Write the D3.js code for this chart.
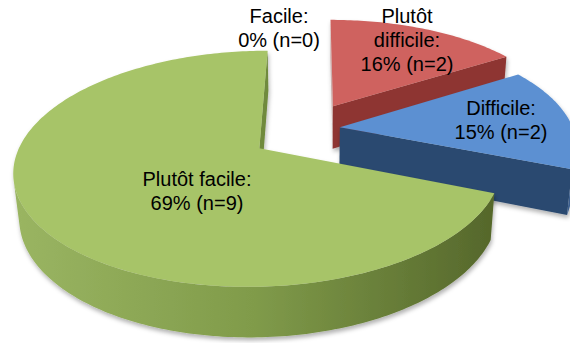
<!DOCTYPE html>
<html>
<head>
<meta charset="utf-8">
<script src="https://cdn.jsdelivr.net/npm/d3@7"></script>
<style>
  html, body { margin: 0; padding: 0; background: #fff; }
  svg { display: block; }
  text { font-family: "Liberation Sans", Arial, sans-serif; font-size: 20px; fill: #000; }
</style>
</head>
<body>
<svg id="chart" width="570" height="343"></svg>
<script>
// ---- data ----
const categories = ["Facile", "Plutôt difficile", "Difficile", "Plutôt facile"];
const percents   = [0, 16, 15, 69];
const counts     = [0, 2, 2, 9];
// category names as they wrap inside the labels
const wrappedNames = [["Facile:"], ["Plutôt", "difficile:"], ["Difficile:"], ["Plutôt facile:"]];

// ---- styling ----
const topColors  = ["#9bbb59", "#cf625e", "#5b90d2", "#a7c467"];
const faceColors = ["#7d9847", "#8e3633", "#2c4a6f", "#6f8a3c"];
const sideLight  = ["#c9d8a8", "#cdb0ae", "#9db5d6", "#a3ae8a"];
const wallStops  = [
  ["#8aa553", "#6f8a3c", "#55672a"],
  ["#b04a47", "#963d3a", "#7d302d"],
  ["#3c5f8e", "#33547f", "#2a4669"],
  ["#9ab562", "#809b4a", "#55672b"]
];

// ---- 3D view of the pie (unit radius disc seen through a perspective camera) ----
const view = { cx: 315.28, cy: 130.68, scale: 234.03, tilt: 27.62, dist: 5.25, depth: 0.2151 };
// how far each slice is pulled out, and in which direction (degrees, clockwise from 12 o'clock)
const explodeDist = [0, 0.247, 0.1102, 0.2813];
const explodeDir  = [0, 18.55, 73.16, 235.8];
// label anchors: [angle in degrees, radius] measured from each slice's own apex
const labelPolar = [[-9.3, 1.141], [27.07, 0.830], [84.45, 0.705], [212.9, 0.4216]];
const lineHeight = 24;

const rad = Math.PI / 180;
const cosT = Math.cos(view.tilt * rad), sinT = Math.sin(view.tilt * rad);
const camera = [0, -view.dist * cosT, view.dist * sinT];

function project(x, w, h) {
  const along = w * cosT - h * sinT;
  const up = w * sinT + h * cosT;
  const k = 1 / (1 + along / view.dist);
  return [view.cx + view.scale * x * k, view.cy - view.scale * up * k];
}

const pie = d3.pie().sort(null).value(d => d).startAngle(0).endAngle(2 * Math.PI);
const arcs = pie(percents).map((a, i) => ({
  ...a, i,
  ox: explodeDist[i] * Math.sin(explodeDir[i] * rad),
  ow: explodeDist[i] * Math.cos(explodeDir[i] * rad)
}));

const svg = d3.select("#chart");
const defs = svg.append("defs");
const shadow = defs.append("filter").attr("id", "shadow")
  .attr("x", "-10%").attr("y", "-10%").attr("width", "120%").attr("height", "130%");
shadow.append("feDropShadow").attr("dx", 1).attr("dy", 3).attr("stdDeviation", 2.2)
  .attr("flood-color", "#000").attr("flood-opacity", 0.3);

const line = d3.line();
const pt = (s, a, r, h) => project(s.ox + r * Math.sin(a), s.ow + r * Math.cos(a), h);
const ring = (a0, a1, s, h) => {
  const n = Math.max(2, Math.ceil(Math.abs(a1 - a0) / (1 * rad)));
  return d3.range(n + 1).map(j => pt(s, a0 + (a1 - a0) * j / n, 1, h));
};
const sees = (n, p) => n[0] * (camera[0] - p[0]) + n[1] * (camera[1] - p[1]) + n[2] * (camera[2] - p[2]) > 0;

// back slices first, the big front slice last
const order = [1, 2, 3, 0];
const bottom = -view.depth;

order.forEach(idx => {
  const s = arcs[idx];
  if (s.endAngle - s.startAngle <= 0) return;
  const g = svg.append("g").attr("class", "slice").attr("filter", "url(#shadow)");
  const a0 = s.startAngle, a1 = s.endAngle;

  // radial cut faces that turn toward the camera
  [
    { a: a0, n: [-Math.cos(a0), Math.sin(a0), 0] },
    { a: a1, n: [Math.cos(a1), -Math.sin(a1), 0] }
  ].forEach(f => {
    if (!sees(f.n, [s.ox, s.ow, 0])) return;
    const quad = [pt(s, 0, 0, 0), pt(s, f.a, 1, 0), pt(s, f.a, 1, bottom), pt(s, 0, 0, bottom)];
    g.append("path").attr("d", line(quad) + "Z")
      .attr("fill", f.n[0] < -0.5 ? sideLight[idx] : faceColors[idx]);
  });

  // outer rounded wall, only the part that faces the camera
  const step = 0.5 * rad;
  const vis = d3.range(a0, a1 + step / 2, step).map(a => Math.min(a, a1)).filter(a =>
    sees([Math.sin(a), Math.cos(a), 0], [s.ox + Math.sin(a), s.ow + Math.cos(a), 0]));
  if (vis.length > 1) {
    const w0 = d3.min(vis), w1 = d3.max(vis);
    const upper = ring(w0, w1, s, 0);
    const lower = ring(w0, w1, s, bottom).reverse();
    const xs = upper.map(p => p[0]);
    const gid = "wall" + idx;
    const grad = defs.append("linearGradient").attr("id", gid)
      .attr("gradientUnits", "userSpaceOnUse")
      .attr("x1", d3.min(xs)).attr("x2", d3.max(xs)).attr("y1", 0).attr("y2", 0);
    wallStops[idx].forEach((c, j, arr) => grad.append("stop")
      .attr("offset", j / (arr.length - 1)).attr("stop-color", c));
    g.append("path").attr("d", line(upper.concat(lower)) + "Z").attr("fill", `url(#${gid})`);
  }

  // top face
  const topFace = [pt(s, 0, 0, 0)].concat(ring(a0, a1, s, 0));
  g.append("path").attr("d", line(topFace) + "Z").attr("fill", topColors[idx]);
});

// ---- labels ----
const labels = svg.append("g").attr("class", "labels");
arcs.forEach((s, i) => {
  const [ang, r] = labelPolar[i];
  const p = pt(s, ang * rad, r, 0);
  const lines = wrappedNames[i].concat([`${percents[i]}% (n=${counts[i]})`]);
  const t = labels.append("text").attr("text-anchor", "middle");
  lines.forEach((txt, j) => {
    t.append("tspan").attr("x", p[0])
      .attr("y", p[1] + 7 + (j - (lines.length - 1) / 2) * lineHeight)
      .text(txt);
  });
});
</script>
</body>
</html>
